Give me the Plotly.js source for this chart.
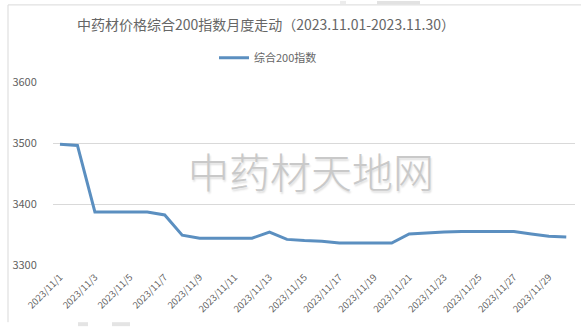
<!DOCTYPE html>
<html>
<head>
<meta charset="utf-8">
<script src="https://cdn.plot.ly/plotly-3.0.1.min.js"></script>
<style>
  html, body { margin: 0; padding: 0; background: #ffffff; }
  #chart { width: 581px; height: 327px; }
</style>
</head>
<body>
<div id="chart"></div>
<script>
// Daily categories for November 2023
const dates = [
  "2023/11/1", "2023/11/2", "2023/11/3", "2023/11/4", "2023/11/5",
  "2023/11/6", "2023/11/7", "2023/11/8", "2023/11/9", "2023/11/10",
  "2023/11/11", "2023/11/12", "2023/11/13", "2023/11/14", "2023/11/15",
  "2023/11/16", "2023/11/17", "2023/11/18", "2023/11/19", "2023/11/20",
  "2023/11/21", "2023/11/22", "2023/11/23", "2023/11/24", "2023/11/25",
  "2023/11/26", "2023/11/27", "2023/11/28", "2023/11/29", "2023/11/30"
];

// 综合200指数 daily values
const index200 = [
  3498, 3496, 3387, 3387, 3387,
  3387, 3382, 3349, 3344, 3344,
  3344, 3344, 3354, 3342, 3340,
  3339, 3336, 3336, 3336, 3336,
  3351, 3353, 3354, 3355, 3355,
  3355, 3355, 3351, 3347, 3346
];

// Every other day is labelled on the x axis
const xTickLabels = dates.filter((d, i) => i % 2 === 0);
const yTicks = [3300, 3400, 3500, 3600];

const seriesName = "综合200指数";
const titleText = "中药材价格综合200指数月度走动（2023.11.01-2023.11.30）";
const watermark = "中药材天地网";

const W = 581, H = 327;
const margin = { l: 53, r: 6, t: 81.5, b: 61.5, pad: 0 };
const plotW = W - margin.l - margin.r;
const plotH = H - margin.t - margin.b;
// pixel -> paper coordinate helpers for decorations outside the plot
const px = x => (x - margin.l) / plotW;
const py = y => (H - margin.b - y) / plotH;

const font = "'Noto Sans CJK SC', 'Noto Sans', sans-serif";
const textGray = "#5f5f5f";

const trace = {
  type: "scatter",
  mode: "lines",
  name: seriesName,
  x: dates,
  y: index200,
  line: { color: "#5b8fc0", width: 3, shape: "linear" },
  hoverinfo: "x+y"
};

const layout = {
  width: W,
  height: H,
  margin: margin,
  paper_bgcolor: "#ffffff",
  plot_bgcolor: "#ffffff",
  font: { family: font, color: textGray },
  title: {
    text: titleText,
    font: { family: font, size: 14, color: "#666666" },
    xref: "container", yref: "container",
    x: 266 / W, xanchor: "center",
    y: 1 - 25 / H, yanchor: "middle"
  },
  showlegend: true,
  legend: {
    orientation: "h",
    x: px(268), xanchor: "center",
    y: py(57), yanchor: "middle",
    font: { family: font, size: 11, color: "#666666" },
    bgcolor: "rgba(0,0,0,0)",
    itemwidth: 30
  },
  xaxis: {
    type: "category",
    range: [-0.4, 29.5],
    tickmode: "array",
    tickvals: xTickLabels,
    ticktext: xTickLabels,
    tickangle: -45,
    tickfont: { family: font, size: 9.5, color: textGray },
    showgrid: false,
    showline: false,
    zeroline: false,
    ticks: "outside",
    ticklen: 2,
    tickcolor: "rgba(0,0,0,0)",
    fixedrange: true
  },
  yaxis: {
    range: [3300, 3600],
    tickmode: "array",
    tickvals: yTicks,
    ticktext: yTicks.map(String),
    tickfont: { family: font, size: 11, color: textGray },
    showgrid: true,
    gridcolor: "#d9d9d9",
    gridwidth: 1,
    zeroline: false,
    showline: false,
    ticks: "outside",
    ticklen: 13,
    tickcolor: "rgba(0,0,0,0)",
    fixedrange: true
  },
  annotations: [
    {
      text: watermark,
      xref: "paper", yref: "paper",
      x: px(311), y: py(170),
      xanchor: "center", yanchor: "middle",
      showarrow: false,
      font: {
        family: font, size: 41, color: "#c9c9c9", weight: 300,
        shadow: "1px 2px 2px #dedede"
      }
    }
  ],
  shapes: [
    // chart frame: left and top edges
    { type: "line", xref: "paper", yref: "paper",
      x0: px(8), x1: px(8), y0: py(4), y1: py(323),
      line: { color: "#d9d9d9", width: 1 } },
    { type: "line", xref: "paper", yref: "paper",
      x0: px(8), x1: px(W), y0: py(4), y1: py(4),
      line: { color: "#d9d9d9", width: 1 } },
    // faint logo fragments along the page edges
    { type: "rect", xref: "paper", yref: "paper",
      x0: px(78), x1: px(88), y0: py(323), y1: py(327),
      line: { width: 0 }, fillcolor: "#e4e4e4" },
    { type: "rect", xref: "paper", yref: "paper",
      x0: px(112), x1: px(130), y0: py(323), y1: py(327),
      line: { width: 0 }, fillcolor: "#e4e4e4" },
    { type: "rect", xref: "paper", yref: "paper",
      x0: px(377), x1: px(420), y0: py(0), y1: py(3.5),
      line: { width: 0 }, fillcolor: "#e2e2e2" },
    { type: "rect", xref: "paper", yref: "paper",
      x0: px(340), x1: px(346), y0: py(0), y1: py(3),
      line: { width: 0 }, fillcolor: "#ececec" }
  ]
};

Plotly.newPlot("chart", [trace], layout, { displayModeBar: false, staticPlot: true });
</script>
</body>
</html>
